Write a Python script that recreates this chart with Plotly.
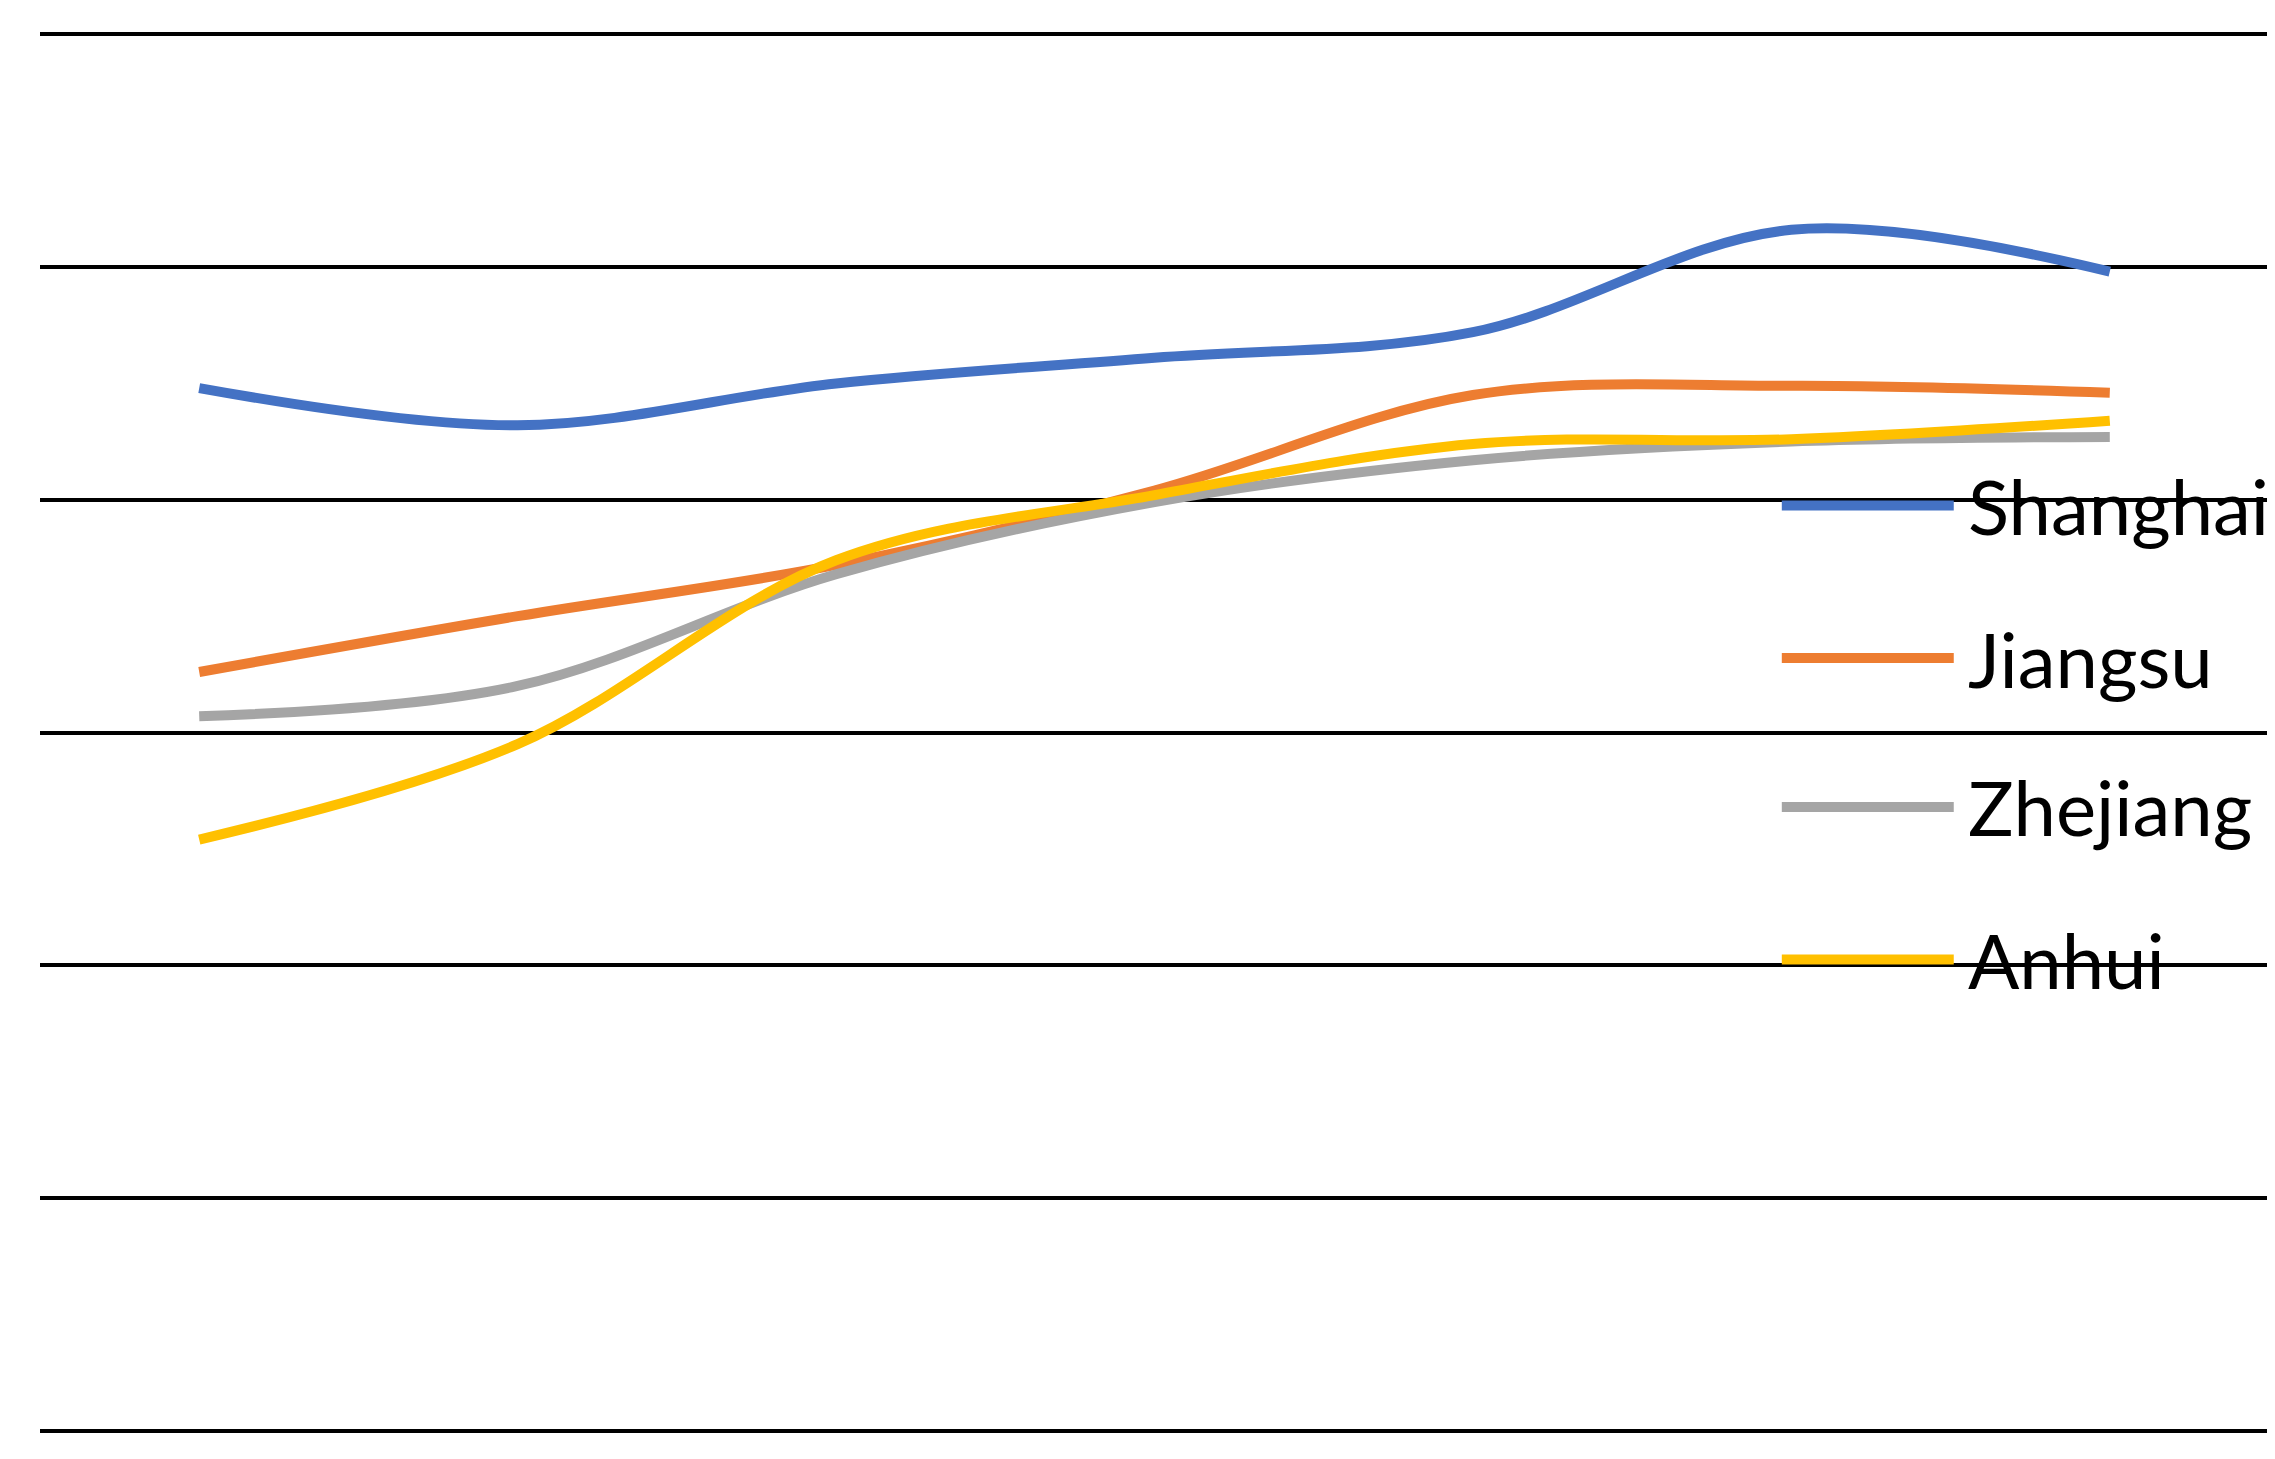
import plotly.graph_objects as go

categories = [0, 1, 2, 3, 4, 5, 6]
series_names = ["Shanghai", "Jiangsu", "Zhejiang", "Anhui"]
shanghai = [4.48, 4.32, 4.50, 4.61, 4.72, 5.16, 4.98]
jiangsu = [3.26, 3.50, 3.72, 4.04, 4.45, 4.49, 4.46]
zhejiang = [3.07, 3.20, 3.68, 3.99, 4.17, 4.25, 4.27]
anhui = [2.54, 2.95, 3.74, 4.02, 4.24, 4.26, 4.34]
colors = ["#4472C4", "#ED7D31", "#A5A5A5", "#FFC000"]
legend_y = [3.975, 3.32, 2.68, 2.025]

fig = go.Figure()
for name, vals, c in zip(series_names, [shanghai, jiangsu, zhejiang, anhui], colors):
    fig.add_trace(go.Scatter(x=categories, y=vals, name=name, mode="lines",
                             line=dict(color=c, width=10, shape="spline", smoothing=1.0)))

for name, c, yy in zip(series_names, colors, legend_y):
    fig.add_shape(type="line", xref="x", yref="y", x0=4.97, x1=5.51, y0=yy, y1=yy,
                  line=dict(color=c, width=10), layer="above")
    fig.add_annotation(x=5.55, y=yy, xref="x", yref="y", text=name, showarrow=False,
                       xanchor="left", yanchor="middle",
                       font=dict(size=76, color="black", family="Lato"))

fig.update_layout(
    width=2275, height=1459, showlegend=False,
    paper_bgcolor="white", plot_bgcolor="white",
    margin=dict(l=32, r=14, t=24, b=34),
    xaxis=dict(range=[-0.5, 6.5], showgrid=False, showticklabels=False, zeroline=False, ticks=""),
    yaxis=dict(range=[-0.01, 6.01], dtick=1, tick0=0, showgrid=True, gridcolor="black",
               gridwidth=4, showticklabels=False, zeroline=False, ticks=""),
)
fig.write_html("out.html")
